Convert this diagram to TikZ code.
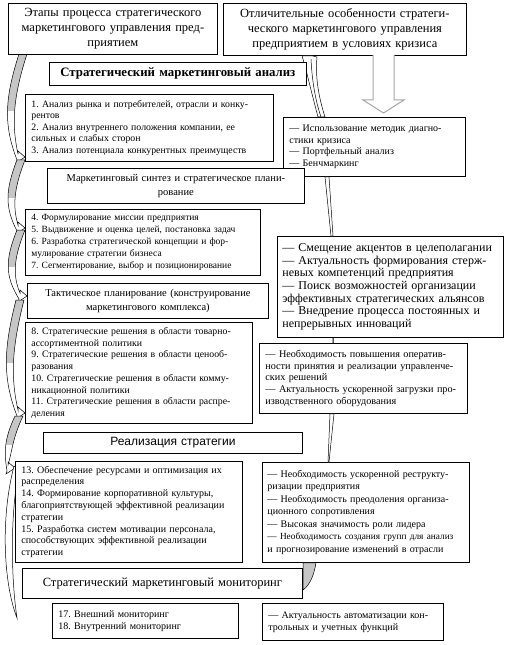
\documentclass[tikz,border=0pt]{standalone}
\usepackage{fontspec}
\setmainfont{Liberation Serif}
\newfontfamily\arialfam{Liberation Sans}
\usetikzlibrary{calc}
\frenchspacing
\newcommand\myfs[2]{\fontsize{#1bp}{#2bp}\selectfont}
\newcommand\cresc[5]{%
\def\crp{({#1-3},#2) .. controls (#5,{#2+0.45*(#4-#2)}) and (#5,{#4-0.3*(#4-#2)}) .. ({#3-8},{#4+3}) -- ({#3-9},{#4+6}) -- (#3,#4) -- ({#3-7},{#4-6}) -- ({#3-7},{#4-3}) .. controls ({#5+8},{#4-0.3*(#4-#2)}) and ({#5+8},{#2+0.45*(#4-#2)}) .. ({#1+5},#2) -- cycle}%
\fill[white] \crp;
\begin{scope}\clip (0,#2) rectangle (60,{#2+0.55*(#4-#2)}); \fill[gray!45] \crp; \end{scope}
\draw[line width=0.5bp] \crp;}
\begin{document}
\begin{tikzpicture}[x=1bp,y=-1bp,
  box/.style={draw, fill=white, line width=0.8bp, anchor=north west, inner ysep=0bp},
  lbox/.style={box, align=left, inner xsep=6bp},
  cbox/.style={box, align=center, inner xsep=4bp},
  rib/.style={draw, line width=0.5bp},
  blockarrow/.style={draw=gray!70, fill=white, line width=1bp}]
\useasboundingbox[fill=white] (0,0) rectangle (507,645);

% left ribbon of curved arrows
\cresc{22}{54}{25}{157}{4}
\cresc{20}{160}{25}{228}{5}
\cresc{20}{230}{27}{296}{5}
\cresc{19}{300}{25}{413}{3}
\cresc{18}{416}{15}{468}{4}
\draw[line width=0.5bp, fill=white] (14,466) .. controls (0,520) and (4,585) .. (17,618) .. controls (12,585) and (9,520) .. (19,470) -- cycle;

% nodes
\node[cbox, text width=201bp, minimum height=51bp, font=\myfs{12.5}{15}] (A) at (8,3)
 {Этапы процесса стратегического\\маркетингового управления пред-\\приятием};
\node[cbox, text width=235bp, minimum height=52bp, font=\myfs{12.5}{15}] (B) at (223,3)
 {Отличительные особенности стратеги-\\ческого маркетингового управления\\предприятием в условиях кризиса};

% right ribbon top
\draw[rib, fill=white] ([xshift=79bp]B.south west) -- ([xshift=89bp]B.south west) -- (317,57) .. controls (315,78) and (319,98) .. (325,117) -- (318,117) .. controls (313,98) and (309,82) .. (305,66) -- cycle;
\draw[rib] (311,59) .. controls (312,80) and (315,99) .. (321,117);

\node[cbox, text width=249bp, minimum height=23bp, font=\myfs{12.8}{15}\bfseries] (H1) at (49,62)
 {Стратегический маркетинговый анализ};
\node[lbox, text width=236bp, minimum height=67bp, font=\myfs{9.8}{11.6}] (L1) at (25,94)
 {1. Анализ рынка и потребителей, отрасли и конку-\\рентов\\2. Анализ внутреннего положения компании, ее\\сильных и слабых сторон\\3. Анализ потенциала конкурентных преимуществ};
\node[lbox, text width=170bp, minimum height=59bp, font=\myfs{10}{11.7}] (R1) at (283,117)
 {— Использование методик диагно-\\стики кризиса\\— Портфельный анализ\\— Бенчмаркинг};
\draw[blockarrow] (373,55) -- (373,100) -- (363,100) -- (383.5,113) -- (404,100) -- (394,100) -- (394,55);

\node[cbox, text width=249bp, minimum height=35bp, font=\myfs{10.5}{14}] (H2) at (47,168)
 {Маркетинговый синтез и стратегическое плани-\\рование};
\node[lbox, text width=223bp, minimum height=66bp, font=\myfs{9.5}{11.8}] (L2) at (25,209)
 {4. Формулирование миссии предприятия\\5. Выдвижение и оценка целей, постановка задач\\6. Разработка стратегической концепции и фор-\\мулирование стратегии бизнеса\\7. Сегментирование, выбор и позиционирование};
\node[lbox, inner xsep=5bp, text width=216bp, minimum height=101bp, font=\myfs{12}{12.7}] (R2) at (277,236)
 {— Смещение акцентов в целеполагании\\— Актуальность формирования стерж-\\невых компетенций предприятия\\— Поиск возможностей организации\\эффективных стратегических альянсов\\— Внедрение процесса постоянных и\\непрерывных инноваций};
\draw[rib, fill=white] ([xshift=42bp]R1.south west) -- ([xshift=46bp]R1.south west) -- ([xshift=56bp]R2.north west) -- ([xshift=54bp]R2.north west) -- cycle;

\node[cbox, text width=233bp, minimum height=35bp, font=\myfs{10.5}{14}] (H3) at (27,283)
 {Тактическое планирование (конструирование\\маркетингового комплекса)};
\node[lbox, text width=215bp, minimum height=101bp, font=\myfs{9.8}{11.7}] (L3) at (25,322)
 {8. Стратегические решения в области товарно-\\ассортиментной политики\\9. Стратегические решения в области ценооб-\\разования\\10. Стратегические решения в области комму-\\никационной политики\\11. Стратегические решения в области распре-\\деления};
\node[lbox, text width=196bp, minimum height=70bp, font=\myfs{10.2}{11.7}] (R3) at (259,343)
 {— Необходимость повышения оператив-\\ности принятия и реализации управленче-\\ских решений\\— Актуальность ускоренной загрузки про-\\изводственного оборудования};
\draw[rib, line width=1bp] ([xshift=56bp]R2.south west) -- ([xshift=74bp]R3.north west);

\node[cbox, text width=251bp, minimum height=21bp, font=\myfs{12}{14}\arialfam] (H4) at (43,432)
 {Реализация стратегии};
\node[lbox, text width=215bp, minimum height=101bp, font=\myfs{10}{11.8}] (L4) at (15,461)
 {13. Обеспечение ресурсами и оптимизация их\\распределения\\14. Формирование корпоративной культуры,\\благоприятствующей эффективной реализации\\стратегии\\15. Разработка систем мотивации персонала,\\способствующих эффективной реализации\\стратегии};
\node[lbox, inner xsep=5bp, text width=197bp, minimum height=100bp, font=\myfs{10}{12.5}] (R4) at (262,462)
 {— Необходимость ускоренной реструкту-\\ризации предприятия\\— Необходимость преодоления организа-\\ционного сопротивления\\— Высокая значимость роли лидера\\{\myfs{9.3}{12.5}— Необходимость создания групп для анализ}\\и прогнозирование изменений в отрасли};
\draw[rib, fill=white] ([xshift=71bp]R3.south west) -- ([xshift=75bp]R3.south west) -- ([xshift=67bp]R4.north west) -- ([xshift=66bp]R4.north west) -- cycle;

\node[cbox, text width=272bp, minimum height=30bp, font=\myfs{12.5}{15}] (H5) at (22,568)
 {Стратегический маркетинговый мониторинг};
\draw[rib, fill=gray!45] ([xshift=41bp]R4.south west) -- ([xshift=54bp]R4.south west) .. controls (314,575) and (310,585) .. (303,590) -- cycle;

\node[lbox, text width=174bp, minimum height=35bp, font=\myfs{10}{12}] (L5) at (52,603)
 {17. Внешний мониторинг\\18. Внутренний мониторинг};
\node[lbox, text width=169bp, minimum height=37bp, font=\myfs{10}{12}] (R5) at (262,603)
 {— Актуальность автоматизации кон-\\трольных и учетных функций};
\end{tikzpicture}
\end{document}
